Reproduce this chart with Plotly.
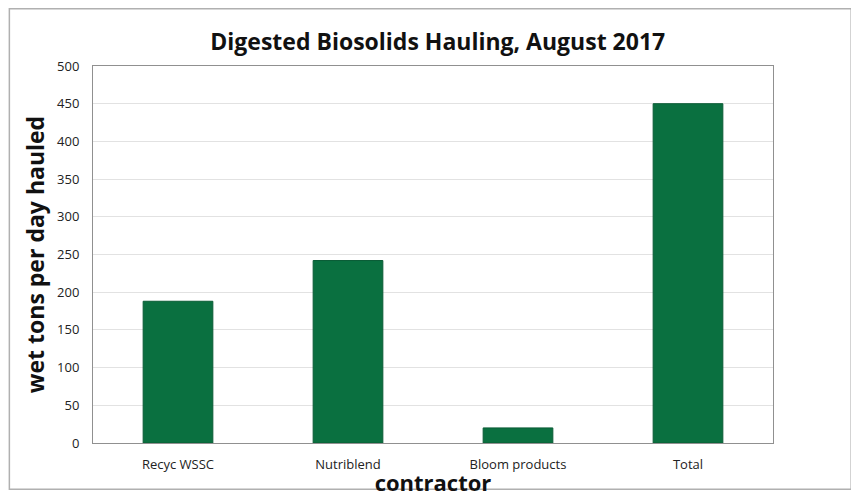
import plotly.graph_objects as go

categories = ["Recyc WSSC", "Nutriblend", "Bloom products", "Total"]
values = [188, 242, 20, 450]
y_ticks = [0, 50, 100, 150, 200, 250, 300, 350, 400, 450, 500]

fig = go.Figure(go.Bar(x=categories, y=values, marker_color="#0a7040",
                       marker_line_color="#0a5c35", marker_line_width=1, width=0.41))

fig.update_layout(
    width=851, height=489,
    margin=dict(l=85, r=86, t=58, b=54, autoexpand=False),
    paper_bgcolor="white", plot_bgcolor="white",
    font=dict(family="Open Sans", color="#222"),
    title=dict(text="<b>Digested Biosolids Hauling, August 2017</b>", x=0.505, xanchor="center",
               y=0.93, yanchor="middle", font=dict(size=23, color="#111")),
    showlegend=False,
    shapes=[dict(type="rect", xref="paper", yref="paper", x0=-0.123, x1=1.115, y0=-0.123, y1=1.152,
                 line=dict(color="#b0b0b0", width=1.5))],
)
fig.update_xaxes(title=dict(text="<b>contractor</b>", font=dict(size=22, color="#111"), standoff=0),
                 tickfont=dict(size=13), showline=True, linecolor="#909090", mirror=True,
                 ticks="outside", ticklen=9, tickcolor="rgba(0,0,0,0)", range=[-0.5, 3.5], automargin=False)
fig.update_yaxes(title=dict(text="<b>wet tons per day hauled</b>", font=dict(size=23, color="#111"), standoff=6),
                 range=[0, 500], tickvals=y_ticks, tickfont=dict(size=13),
                 showgrid=True, gridcolor="#e2e2e2", showline=True, linecolor="#909090", mirror=True,
                 zeroline=False, ticks="outside", ticklen=10, tickcolor="rgba(0,0,0,0)", automargin=False)

fig.write_html("out.html")
